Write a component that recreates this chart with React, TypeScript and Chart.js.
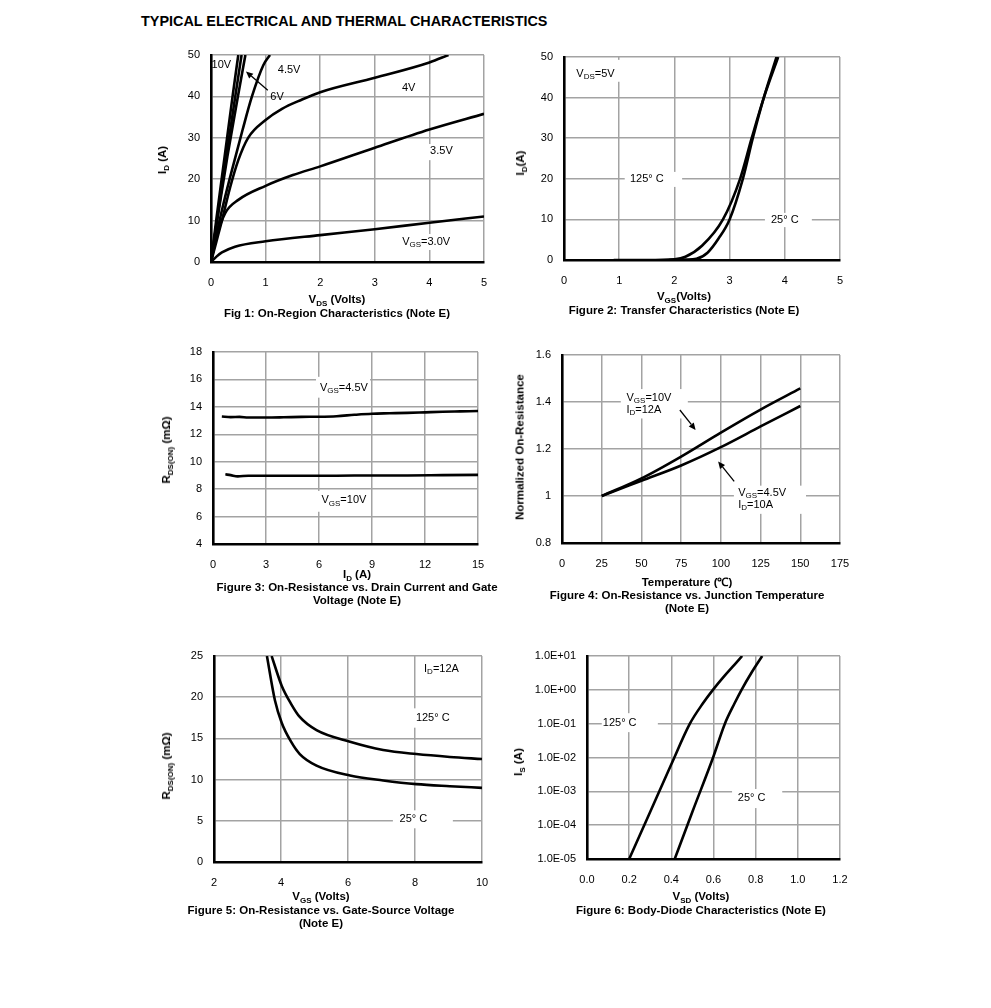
import React, { useEffect, useRef } from "react";
import { Chart, registerables } from "chart.js";

Chart.register(...registerables);

const FONT = '"Liberation Sans", Arial, Helvetica, sans-serif';
const GRID = "#a3a3a3";

// ---------------- DATA ----------------
// Fig 1: On-region characteristics (VDS vs ID)
const fig1Vds10V = [0, 0.1, 0.25, 0.4, 0.5];
const fig1Id10V = [0, 10.5, 25.5, 40.5, 50];
const fig1Vds8V = [0, 0.12, 0.28, 0.45, 0.56];
const fig1Id8V = [0, 11, 25.5, 40.5, 50];
const fig1Vds6V = [0, 0.1, 0.3, 0.5, 0.63];
const fig1Id6V = [0, 9, 25.5, 40.5, 50];
const fig1Vds45V = [0, 0.1, 0.2, 0.35, 0.58, 0.75, 0.96, 1.08];
const fig1Id45V = [0, 6.5, 12.5, 20.5, 32, 40, 47.6, 50];
const fig1Vds4V = [0, 0.1, 0.2, 0.35, 0.5, 0.68, 1, 1.3, 1.66, 2, 3, 4, 4.35];
const fig1Id4V = [0, 5, 10, 18, 24.6, 30, 34.3, 37, 39.2, 41, 44.5, 48.2, 50];
const fig1Vds35V = [0, 0.1, 0.26, 0.5, 1, 1.5, 2, 3, 4, 5];
const fig1Id35V = [0, 6, 11.8, 15, 18.4, 21, 23.1, 27.6, 32, 35.8];
const fig1Vds3V = [0, 0.1, 0.2, 0.44, 1, 2, 3, 4, 5];
const fig1Id3V = [0, 1.3, 2.3, 3.7, 5, 6.5, 7.9, 9.5, 11];
const fig1XTicks = [0, 1, 2, 3, 4, 5];
const fig1YTicks = [0, 10, 20, 30, 40, 50];

// Fig 2: Transfer characteristics
const fig2Vgs125 = [0.9, 1.5, 2, 2.2, 2.5, 2.88, 3.19, 3.4, 3.62, 3.88];
const fig2Id125 = [0, 0, 0.2, 0.8, 3.5, 10, 20, 30, 40, 50];
const fig2Vgs25 = [1.9, 2.2, 2.4, 2.6, 2.8, 3.0, 3.24, 3.42, 3.62, 3.85];
const fig2Id25 = [0, 0.1, 0.3, 1.8, 5.3, 10, 20, 30, 40, 50];
const fig2XTicks = [0, 1, 2, 3, 4, 5];
const fig2YTicks = [0, 10, 20, 30, 40, 50];

// Fig 3: On-resistance vs drain current
const fig3Id45 = [0.5, 1, 1.5, 2, 3, 4, 5, 6, 7, 8, 9, 10, 11, 12, 13, 14, 15];
const fig3R45 = [13.3, 13.25, 13.27, 13.22, 13.22, 13.24, 13.27, 13.28, 13.32, 13.42, 13.5, 13.53, 13.56, 13.6, 13.64, 13.67, 13.7];
const fig3Id10 = [0.7, 1, 1.4, 2, 3, 5, 7, 9, 11, 13, 15];
const fig3R10 = [9.08, 9.02, 8.93, 8.98, 8.98, 8.98, 8.98, 9.0, 9.0, 9.02, 9.04];
const fig3XTicks = [0, 3, 6, 9, 12, 15];
const fig3YTicks = [4, 6, 8, 10, 12, 14, 16, 18];

// Fig 4: Normalized on-resistance vs temperature
const fig4Temp = [25, 50, 75, 100, 125, 150];
const fig4Vgs10 = [1, 1.075, 1.168, 1.27, 1.368, 1.458];
const fig4Vgs45 = [1, 1.065, 1.13, 1.208, 1.296, 1.383];
const fig4XTicks = [0, 25, 50, 75, 100, 125, 150, 175];
const fig4YTicks = [0.8, 1, 1.2, 1.4, 1.6];
const fig4YLabels = ["0.8", "1", "1.2", "1.4", "1.6"];

// Fig 5: On-resistance vs gate-source voltage
const fig5Vgs125 = [3.72, 4.02, 4.3, 4.56, 5.06, 6.06, 7.05, 8.04, 9.04, 10];
const fig5R125 = [25, 21.4, 19.2, 17.6, 16, 14.6, 13.6, 13.1, 12.75, 12.5];
const fig5Vgs25 = [3.58, 3.82, 4.02, 4.3, 4.56, 5.06, 6.06, 7.05, 8.04, 9.04, 10];
const fig5R25 = [25, 19.6, 16.9, 14.6, 13.1, 11.7, 10.5, 9.9, 9.45, 9.2, 9.0];
const fig5XTicks = [2, 4, 6, 8, 10];
const fig5YTicks = [0, 5, 10, 15, 20, 25];

// Fig 6: Body-diode characteristics
const fig6Vsd125 = [0.2, 0.3, 0.4, 0.488, 0.55, 0.6, 0.65, 0.7, 0.736];
const fig6Is125 = [1e-5, 2.5e-4, 6.3e-3, 0.1, 0.4, 1.05, 2.5, 5.6, 10];
const fig6Vsd25 = [0.416, 0.5, 0.598, 0.654, 0.7, 0.733, 0.78, 0.831];
const fig6Is25 = [1e-5, 2.5e-4, 1e-2, 0.1, 0.4, 1, 3.2, 10];
const fig6XTicks = [0, 0.2, 0.4, 0.6, 0.8, 1.0, 1.2];
const fig6XLabels = ["0.0", "0.2", "0.4", "0.6", "0.8", "1.0", "1.2"];
const fig6YTicks = [1e-5, 1e-4, 1e-3, 1e-2, 1e-1, 1, 10];
const fig6YLabels = ["1.0E-05", "1.0E-04", "1.0E-03", "1.0E-02", "1.0E-01", "1.0E+00", "1.0E+01"];

// ---------------- TYPES ----------------
type Series = { x: number[]; y: number[] };
type Seg = { t: string; sub?: boolean };
type Note = {
  x: number;
  y: number;
  lines: Seg[][];
  align?: "left" | "center";
  box?: [number, number, number, number]; // x1, y1, x2, y2 in data units
};
type Arrow = [number, number, number, number]; // from (x1,y1) to head (x2,y2), data units

type PlotProps = {
  rect: [number, number, number, number];
  series: Series[];
  xMin: number;
  xMax: number;
  xTicks: number[];
  xLabels?: string[];
  yMin: number;
  yMax: number;
  yTicks: number[];
  yLabels?: string[];
  yLog?: boolean;
  notes?: Note[];
  arrows?: Arrow[];
};

const PAD_L = 70;
const PAD_T = 24;
const PAD_R = 30;
const X_H = 36;

function makeNotesPlugin(notes: Note[], arrows: Arrow[]) {
  return {
    id: "notes",
    beforeDatasetsDraw(chart: any) {
      const ctx: CanvasRenderingContext2D = chart.ctx;
      const xs = chart.scales.x;
      const ys = chart.scales.y;
      ctx.save();
      for (const n of notes) {
        if (n.box) {
          const x1 = xs.getPixelForValue(n.box[0]);
          const x2 = xs.getPixelForValue(n.box[2]);
          const y1 = ys.getPixelForValue(n.box[1]);
          const y2 = ys.getPixelForValue(n.box[3]);
          ctx.fillStyle = "#fff";
          ctx.fillRect(Math.min(x1, x2), Math.min(y1, y2), Math.abs(x2 - x1), Math.abs(y2 - y1));
        }
      }
      ctx.fillStyle = "#000";
      ctx.textBaseline = "middle";
      ctx.textAlign = "left";
      for (const n of notes) {
        const px = xs.getPixelForValue(n.x);
        const py = ys.getPixelForValue(n.y);
        n.lines.forEach((line, li) => {
          let w = 0;
          for (const s of line) {
            ctx.font = `${s.sub ? 8 : 11}px ${FONT}`;
            w += ctx.measureText(s.t).width;
          }
          let cx = n.align === "left" ? px : px - w / 2;
          const cy = py + li * 12;
          for (const s of line) {
            ctx.font = `${s.sub ? 8 : 11}px ${FONT}`;
            ctx.fillText(s.t, cx, s.sub ? cy + 3 : cy);
            cx += ctx.measureText(s.t).width;
          }
        });
      }
      ctx.strokeStyle = "#000";
      ctx.lineWidth = 1.3;
      for (const a of arrows) {
        const x1 = xs.getPixelForValue(a[0]);
        const y1 = ys.getPixelForValue(a[1]);
        const x2 = xs.getPixelForValue(a[2]);
        const y2 = ys.getPixelForValue(a[3]);
        const ang = Math.atan2(y2 - y1, x2 - x1);
        const hl = 7;
        const hw = 3.2;
        const bx = x2 - hl * Math.cos(ang);
        const by = y2 - hl * Math.sin(ang);
        ctx.beginPath();
        ctx.moveTo(x1, y1);
        ctx.lineTo(bx, by);
        ctx.stroke();
        ctx.beginPath();
        ctx.moveTo(x2, y2);
        ctx.lineTo(bx + hw * Math.sin(ang), by - hw * Math.cos(ang));
        ctx.lineTo(bx - hw * Math.sin(ang), by + hw * Math.cos(ang));
        ctx.closePath();
        ctx.fill();
      }
      ctx.restore();
    },
  };
}

function Plot(p: PlotProps) {
  const ref = useRef<HTMLCanvasElement | null>(null);
  const w = p.rect[2] - p.rect[0] + PAD_L + PAD_R;
  const h = p.rect[3] - p.rect[1] + PAD_T + X_H;
  useEffect(() => {
    if (!ref.current) return;
    const tickFont = { family: FONT, size: 11 };
    const chart = new Chart(ref.current, {
      type: "line",
      data: {
        datasets: p.series.map((s) => ({
          data: s.x.map((x, i) => ({ x, y: s.y[i] })),
          borderColor: "#000",
          borderWidth: 2.6,
          pointRadius: 0,
          fill: false,
          cubicInterpolationMode: "monotone" as const,
        })),
      },
      options: {
        responsive: false,
        animation: false,
        devicePixelRatio: 1,
        layout: { autoPadding: false, padding: { left: 0, top: PAD_T, right: PAD_R, bottom: 0 } },
        plugins: { legend: { display: false }, tooltip: { enabled: false } },
        scales: {
          x: {
            type: "linear",
            min: p.xMin,
            max: p.xMax,
            afterBuildTicks: (s: any) => {
              s.ticks = p.xTicks.map((v) => ({ value: v }));
            },
            afterFit: (s: any) => {
              s.height = X_H;
            },
            ticks: {
              font: tickFont,
              color: "#000",
              padding: 14,
              maxRotation: 0,
              autoSkip: false,
              callback: (v: any, i: number) => (p.xLabels ? p.xLabels[i] : String(p.xTicks[i])),
            },
            grid: { color: GRID, lineWidth: 1.5, drawTicks: false },
            border: { color: "#000", width: 2.6 },
          },
          y: {
            type: p.yLog ? "logarithmic" : "linear",
            min: p.yMin,
            max: p.yMax,
            afterBuildTicks: (s: any) => {
              s.ticks = p.yTicks.map((v) => ({ value: v }));
            },
            afterFit: (s: any) => {
              s.width = PAD_L;
            },
            ticks: {
              font: tickFont,
              color: "#000",
              padding: 11,
              autoSkip: false,
              callback: (v: any, i: number) => (p.yLabels ? p.yLabels[i] : String(p.yTicks[i])),
            },
            grid: { color: GRID, lineWidth: 1.5, drawTicks: false },
            border: { color: "#000", width: 2.6 },
          },
        },
      } as any,
      plugins: [makeNotesPlugin(p.notes || [], p.arrows || [])],
    });
    return () => chart.destroy();
  }, []);
  return (
    <canvas
      ref={ref}
      width={w}
      height={h}
      style={{ position: "absolute", left: p.rect[0] - PAD_L, top: p.rect[1] - PAD_T, width: w, height: h }}
    />
  );
}

function Sub({ children }: { children: React.ReactNode }) {
  return <span style={{ fontSize: 8, position: "relative", top: 3 }}>{children}</span>;
}

function Txt({ x, y, rot, children }: { x: number; y: number; rot?: boolean; children: React.ReactNode }) {
  return (
    <div
      style={{
        position: "absolute",
        left: x,
        top: y,
        transform: `translate(-50%, -50%)${rot ? " rotate(-90deg)" : ""}`,
        whiteSpace: "nowrap",
        font: `bold 11.5px ${FONT}`,
        lineHeight: "13px",
        color: "#000",
      }}
    >
      {children}
    </div>
  );
}

const S = (t: string, sub?: boolean): Seg => ({ t, sub });

export default function App() {
  return (
    <div style={{ position: "absolute", left: 0, top: 0, width: 991, height: 1008, background: "#fff", overflow: "hidden" }}>
      <div style={{ position: "absolute", left: 141, top: 13, font: `bold 14.4px ${FONT}`, whiteSpace: "nowrap", color: "#000" }}>
        TYPICAL ELECTRICAL AND THERMAL CHARACTERISTICS
      </div>

      {/* Fig 1 */}
      <Plot
        rect={[211, 55, 484, 262]}
        series={[
          { x: fig1Vds10V, y: fig1Id10V },
          { x: fig1Vds8V, y: fig1Id8V },
          { x: fig1Vds6V, y: fig1Id6V },
          { x: fig1Vds45V, y: fig1Id45V },
          { x: fig1Vds4V, y: fig1Id4V },
          { x: fig1Vds35V, y: fig1Id35V },
          { x: fig1Vds3V, y: fig1Id3V },
        ]}
        xMin={0}
        xMax={5}
        xTicks={fig1XTicks}
        yMin={0}
        yMax={50}
        yTicks={fig1YTicks}
        notes={[
          { x: 0.19, y: 47.6, lines: [[S("10V")]] },
          { x: 1.43, y: 46.5, lines: [[S("4.5V")]] },
          { x: 1.21, y: 39.9, lines: [[S("6V")]] },
          { x: 3.62, y: 42.0, lines: [[S("4V")]] },
          { x: 4.22, y: 26.7, lines: [[S("3.5V")]], box: [3.97, 24.6, 4.5, 28.5] },
          { x: 3.94, y: 4.95, lines: [[S("V"), S("GS", true), S("=3.0V")]], box: [3.42, 2.9, 4.49, 6.76] },
        ]}
        arrows={[[1.04, 41.5, 0.64, 46]]}
      />
      <Txt x={163} y={160} rot>
        I<Sub>D</Sub> (A)
      </Txt>
      <Txt x={337} y={300}>
        V<Sub>DS</Sub> (Volts)
      </Txt>
      <Txt x={337} y={313}>Fig 1: On-Region Characteristics (Note E)</Txt>

      {/* Fig 2 */}
      <Plot
        rect={[564, 57, 840, 260]}
        series={[
          { x: fig2Vgs125, y: fig2Id125 },
          { x: fig2Vgs25, y: fig2Id25 },
        ]}
        xMin={0}
        xMax={5}
        xTicks={fig2XTicks}
        yMin={0}
        yMax={50}
        yTicks={fig2YTicks}
        notes={[
          { x: 0.57, y: 45.9, lines: [[S("V"), S("DS", true), S("=5V")]], box: [0.12, 43.9, 1.1, 49.3] },
          { x: 1.5, y: 19.86, lines: [[S("125° C")]], box: [1.1, 18, 2.14, 21.7] },
          { x: 4.0, y: 9.87, lines: [[S("25° C")]], box: [3.64, 8.1, 4.49, 11.6] },
        ]}
      />
      <Txt x={521} y={163} rot>
        I<Sub>D</Sub>(A)
      </Txt>
      <Txt x={684} y={297}>
        V<Sub>GS</Sub>(Volts)
      </Txt>
      <Txt x={684} y={310}>Figure 2: Transfer Characteristics (Note E)</Txt>

      {/* Fig 3 */}
      <Plot
        rect={[213, 352, 478, 544]}
        series={[
          { x: fig3Id45, y: fig3R45 },
          { x: fig3Id10, y: fig3R10 },
        ]}
        xMin={0}
        xMax={15}
        xTicks={fig3XTicks}
        yMin={4}
        yMax={18}
        yTicks={fig3YTicks}
        notes={[
          { x: 7.41, y: 15.4, lines: [[S("V"), S("GS", true), S("=4.5V")]], box: [5.83, 14.67, 8.89, 16.19] },
          { x: 7.41, y: 7.18, lines: [[S("V"), S("GS", true), S("=10V")]], box: [5.94, 6.35, 8.89, 7.87] },
        ]}
      />
      <Txt x={167} y={450} rot>
        R<Sub>DS(ON)</Sub> (mΩ)
      </Txt>
      <Txt x={357} y={575}>
        I<Sub>D</Sub> (A)
      </Txt>
      <Txt x={357} y={587}>Figure 3: On-Resistance vs. Drain Current and Gate</Txt>
      <Txt x={357} y={600}>Voltage (Note E)</Txt>

      {/* Fig 4 */}
      <Plot
        rect={[562, 355, 840, 543]}
        series={[
          { x: fig4Temp, y: fig4Vgs10 },
          { x: fig4Temp, y: fig4Vgs45 },
        ]}
        xMin={0}
        xMax={175}
        xTicks={fig4XTicks}
        yMin={0.8}
        yMax={1.6}
        yTicks={fig4YTicks}
        yLabels={fig4YLabels}
        notes={[
          {
            x: 40.6,
            y: 1.416,
            align: "left",
            lines: [
              [S("V"), S("GS", true), S("=10V")],
              [S("I"), S("D", true), S("=12A")],
            ],
            box: [37, 1.33, 79.2, 1.455],
          },
          {
            x: 110.9,
            y: 1.012,
            align: "left",
            lines: [
              [S("V"), S("GS", true), S("=4.5V")],
              [S("I"), S("D", true), S("=10A")],
            ],
            box: [108.2, 0.924, 153.6, 1.044],
          },
        ]}
        arrows={[
          [74.2, 1.366, 84.1, 1.281],
          [108.4, 1.062, 98.3, 1.147],
        ]}
      />
      <Txt x={520} y={447} rot>
        Normalized On-Resistance
      </Txt>
      <Txt x={687} y={582}>Temperature (℃)</Txt>
      <Txt x={687} y={595}>Figure 4: On-Resistance vs. Junction Temperature</Txt>
      <Txt x={687} y={608}>(Note E)</Txt>

      {/* Fig 5 */}
      <Plot
        rect={[214, 656, 482, 862]}
        series={[
          { x: fig5Vgs125, y: fig5R125 },
          { x: fig5Vgs25, y: fig5R25 },
        ]}
        xMin={2}
        xMax={10}
        xTicks={fig5XTicks}
        yMin={0}
        yMax={25}
        yTicks={fig5YTicks}
        notes={[
          { x: 8.79, y: 23.45, lines: [[S("I"), S("D", true), S("=12A")]], box: [8.29, 22.5, 9.33, 24.5] },
          { x: 8.53, y: 17.5, lines: [[S("125° C")]], box: [7.84, 16.3, 9.24, 18.65] },
          { x: 7.95, y: 5.24, lines: [[S("25° C")]], box: [7.34, 4.09, 9.13, 6.27] },
        ]}
      />
      <Txt x={167} y={766} rot>
        R<Sub>DS(ON)</Sub> (mΩ)
      </Txt>
      <Txt x={321} y={897}>
        V<Sub>GS</Sub> (Volts)
      </Txt>
      <Txt x={321} y={910}>Figure 5: On-Resistance vs. Gate-Source Voltage</Txt>
      <Txt x={321} y={923}>(Note E)</Txt>

      {/* Fig 6 */}
      <Plot
        rect={[587, 656, 840, 859]}
        series={[
          { x: fig6Vsd125, y: fig6Is125 },
          { x: fig6Vsd25, y: fig6Is25 },
        ]}
        xMin={0}
        xMax={1.2}
        xTicks={fig6XTicks}
        xLabels={fig6XLabels}
        yMin={1e-5}
        yMax={10}
        yTicks={fig6YTicks}
        yLabels={fig6YLabels}
        yLog
        notes={[
          { x: 0.155, y: 0.107, lines: [[S("125° C")]], box: [0.07, 0.0562, 0.336, 0.204] },
          { x: 0.781, y: 6.3e-4, lines: [[S("25° C")]], box: [0.688, 3.2e-4, 0.926, 1.17e-3] },
        ]}
      />
      <Txt x={519} y={762} rot>
        I<Sub>S</Sub> (A)
      </Txt>
      <Txt x={701} y={897}>
        V<Sub>SD</Sub> (Volts)
      </Txt>
      <Txt x={701} y={910}>Figure 6: Body-Diode Characteristics (Note E)</Txt>
    </div>
  );
}
